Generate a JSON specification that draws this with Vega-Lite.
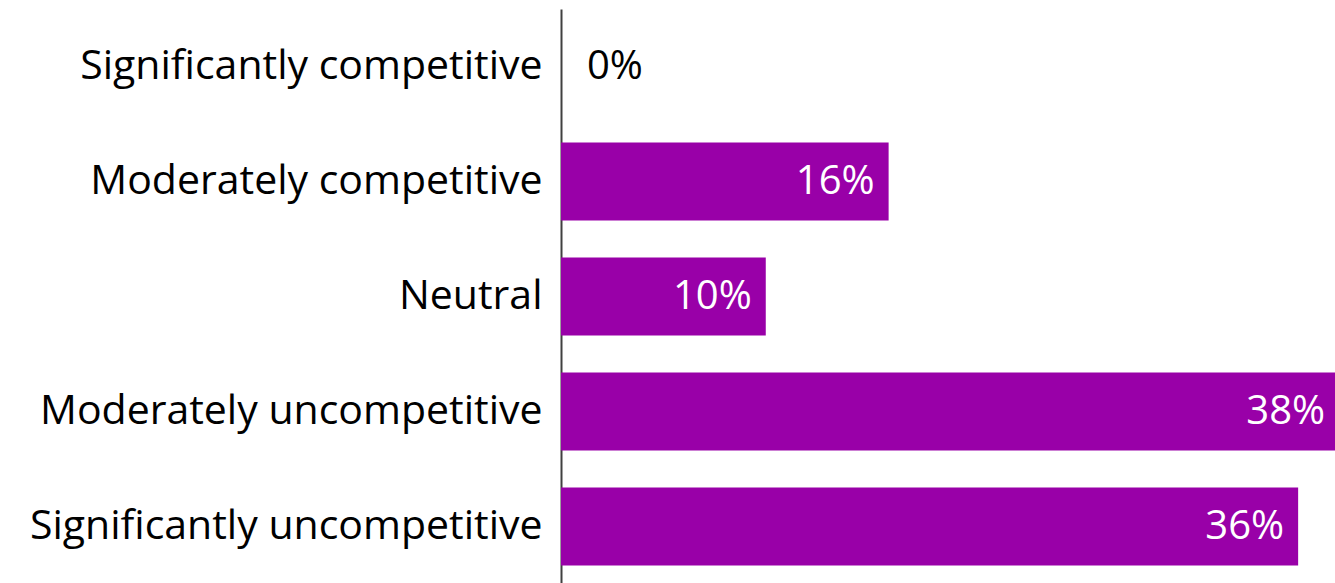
{
  "$schema": "https://vega.github.io/schema/vega-lite/v6.json",
  "width": 774,
  "height": 575,
  "autosize": "none",
  "padding": {"left": 561, "top": 9, "right": 0, "bottom": 0},
  "background": "white",
  "config": {"view": {"stroke": null}, "font": "Open Sans"},
  "data": {"values": [
    {"category": "Significantly competitive", "value": 0},
    {"category": "Moderately competitive", "value": 0.16},
    {"category": "Neutral", "value": 0.10},
    {"category": "Moderately uncompetitive", "value": 0.38},
    {"category": "Significantly uncompetitive", "value": 0.36}
  ]},
  "encoding": {
    "y": {"field": "category", "type": "nominal", "sort": null,
      "scale": {"paddingInner": 0.32, "paddingOuter": 0.16},
      "axis": {"title": null, "ticks": false, "domainColor": "#404040", "domainWidth": 2,
        "labelFontSize": 41, "labelColor": "#000000", "labelPadding": 19, "labelLimit": 600, "labelFont": "Open Sans"}},
    "x": {"field": "value", "type": "quantitative", "scale": {"domain": [0, 0.378], "nice": false}, "axis": null}
  },
  "layer": [
    {"mark": {"type": "bar", "color": "#9900A8"}},
    {"transform": [{"filter": "datum.value > 0"}],
     "mark": {"type": "text", "align": "right", "baseline": "middle", "dx": -14, "fontSize": 40, "color": "white", "font": "Open Sans"},
     "encoding": {"text": {"field": "value", "type": "quantitative", "format": ".0%"}}},
    {"transform": [{"filter": "datum.value == 0"}],
     "mark": {"type": "text", "align": "left", "baseline": "middle", "dx": 26, "fontSize": 40, "color": "black", "font": "Open Sans"},
     "encoding": {"text": {"field": "value", "type": "quantitative", "format": ".0%"}}}
  ]
}
